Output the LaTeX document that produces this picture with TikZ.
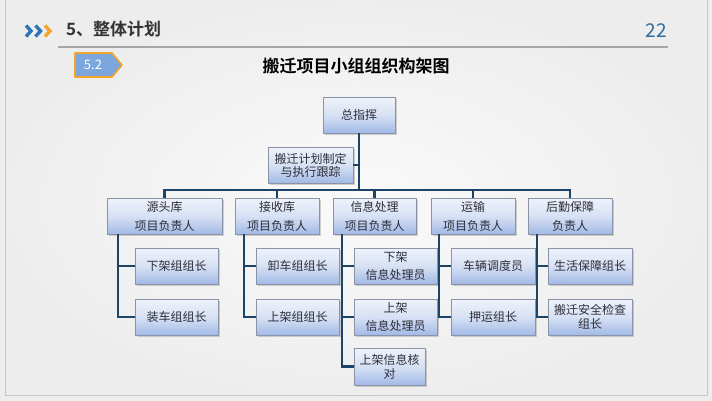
\documentclass[tikz,border=0pt]{standalone}
\usepackage{fontspec}
\newfontfamily\cjk{Noto Sans CJK SC}[BoldFont={Noto Sans CJK SC Bold}]
\usetikzlibrary{shadows,calc}
\definecolor{boxtop}{HTML}{EEF2FA}
\definecolor{boxbot}{HTML}{A2B9E6}
\definecolor{boxborder}{HTML}{8A94A6}
\definecolor{boxtext}{HTML}{2E2E3A}
\definecolor{linec}{HTML}{1C4468}
\definecolor{chevblue}{HTML}{2E75B6}
\definecolor{chevorange}{HTML}{F4A428}
\definecolor{tagfill}{HTML}{7BA7DC}
\definecolor{numblue}{HTML}{2E6A9A}
\tikzset{
  orgbox/.style={draw=boxborder, line width=0.6pt, top color=boxtop, bottom color=boxbot,
    middle color=boxtop!70!boxbot,
    drop shadow={shadow xshift=1.5pt, shadow yshift=-1.5pt, opacity=0.35},
    minimum height=36pt, inner sep=1pt, align=center, text=boxtext,
    font=\cjk\fontsize{12}{13}\selectfont},
  lvone/.style={orgbox, font=\cjk\fontsize{12}{19}\selectfont},
  lvtwo/.style={orgbox, minimum width=83pt},
  conn/.style={draw=linec, line width=2.2pt},
  chev/.style={line width=3.4pt, line join=miter},
}
\begin{document}
\begin{tikzpicture}[x=1pt,y=-1pt]
\useasboundingbox (0,0) rectangle (712,400);
\shade[inner color=white!96!gray, outer color=white!86!gray] (0,0) rectangle (712,400);
\draw[gray!45, line width=1pt] (5,-5) -- (5,395) -- (707,395) -- (707,-5);
% header
\draw[chev, chevblue] (26,25.5) -- (31,31) -- (26,36.5);
\draw[chev, chevblue] (35.5,25.5) -- (40.5,31) -- (35.5,36.5);
\draw[chev, chevorange] (45,25.5) -- (50,31) -- (45,36.5);
\node[anchor=west, inner sep=0pt, text=black!80, font=\cjk\bfseries\fontsize{17}{17}\selectfont] (hd) at (66,29.5) {5、整体计划};
\node[anchor=east, inner sep=0pt, text=numblue, font=\cjk\fontsize{19}{19}\selectfont] (pg) at (667,30.5) {22};
\draw[gray!70, line width=1.5pt] (58,47) -- (668,47);
\draw[draw=chevorange, fill=tagfill, line width=1.6pt, line join=round] (75,53) -- (112,53) -- (122,65) -- (112,77) -- (75,77) -- cycle;
\node[text=white, inner sep=0pt, font=\cjk\fontsize{13}{13}\selectfont] (tag) at (93,65) {5.2};
\node[inner sep=0pt, text=black, font=\cjk\bfseries\fontsize{17}{17}\selectfont] (title) at (356,66) {搬迁项目小组组织构架图};
% top level
\node[orgbox, minimum width=72pt] (zhi) at (359,115) {总指挥};
\node[orgbox, minimum width=85pt] (plan) at (310.5,165) {搬迁计划制定\\与执行跟踪};
% level one
\node[lvone, minimum width=115pt] (yt) at (164.5,216) {源头库\\项目负责人};
\node[lvone, minimum width=84pt] (js) at (277,216) {接收库\\项目负责人};
\node[lvone, minimum width=83pt] (xx) at (374.5,216) {信息处理\\项目负责人};
\node[lvone, minimum width=84pt] (ys) at (473,216) {运输\\项目负责人};
\node[lvone, minimum width=84pt] (hq) at (570,216) {后勤保障\\负责人};
% level two
\node[lvtwo] (a1) at (176.5,266) {下架组组长};
\node[lvtwo] (a2) at (176.5,317) {装车组组长};
\node[lvtwo] (b1) at (297.5,266) {卸车组组长};
\node[lvtwo] (b2) at (297.5,317) {上架组组长};
\node[lvtwo, font=\cjk\fontsize{12}{18}\selectfont] (c1) at (395.5,266) {下架\\信息处理员};
\node[lvtwo, font=\cjk\fontsize{12}{18}\selectfont] (c2) at (395.5,317) {上架\\信息处理员};
\node[orgbox, minimum width=71pt, minimum height=37pt, font=\cjk\fontsize{12}{14}\selectfont] (c3) at (389.5,366.5) {上架信息核\\对};
\node[lvtwo, minimum width=84pt] (d1) at (493,266) {车辆调度员};
\node[lvtwo, minimum width=84pt] (d2) at (493,317) {押运组长};
\node[lvtwo, minimum width=84pt] (e1) at (590,266) {生活保障组长};
\node[lvtwo, minimum width=84pt, font=\cjk\fontsize{12}{14}\selectfont] (e2) at (590,317) {搬迁安全检查\\组长};
% connectors
\coordinate (bus) at (359,190);
\draw[conn] (zhi.south) -- (bus);
\draw[conn] (plan.east) -- (plan.east -| zhi.south);
\draw[conn] (yt.north) |- (bus) -| (hq.north);
\draw[conn] (js.north) -- (js.north |- bus);
\draw[conn] (xx.north) -- (xx.north |- bus);
\draw[conn] (ys.north) -- (ys.north |- bus);
\coordinate (v1) at (118,234);
\coordinate (v2) at (244,234);
\coordinate (v3) at (342,234);
\coordinate (v4) at (439,234);
\coordinate (v5) at (537,234);
\draw[conn] (v1) |- (a1.west); \draw[conn] (v1) |- (a2.west);
\draw[conn] (v2) |- (b1.west); \draw[conn] (v2) |- (b2.west);
\draw[conn] (v3) |- (c1.west); \draw[conn] (v3) |- (c2.west); \draw[conn] (v3) |- (c3.west);
\draw[conn] (v4) |- (d1.west); \draw[conn] (v4) |- (d2.west);
\draw[conn] (v5) |- (e1.west); \draw[conn] (v5) |- (e2.west);
\end{tikzpicture}
\end{document}
